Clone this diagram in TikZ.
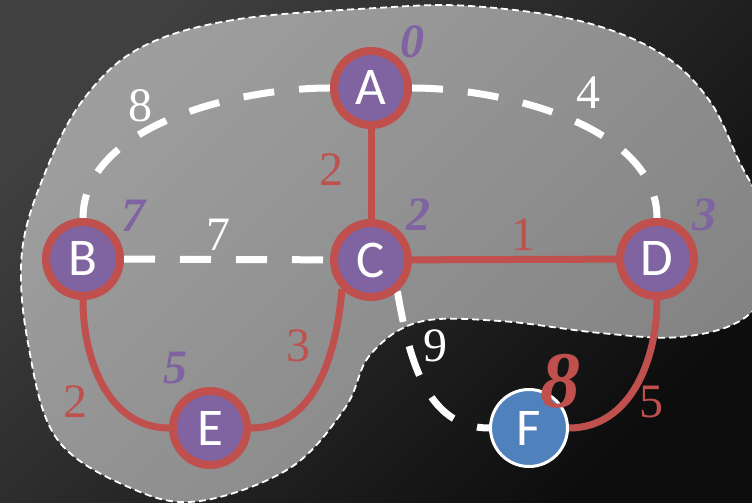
\documentclass[tikz,border=0pt]{standalone}
\usepackage{fontspec}
\setmainfont{Liberation Serif}
\newfontfamily\vertexfont{Carlito}
\usetikzlibrary{backgrounds}

\definecolor{vpurple}{HTML}{8064A2}
\definecolor{ered}{HTML}{C0504D}
\definecolor{fblue}{HTML}{4F81BD}

\begin{document}
\begin{tikzpicture}[x=1pt, y=1pt,
    vertex/.style={circle, draw=ered, line width=8pt, fill=vpurple, minimum size=74pt, inner sep=0pt, text=white, font=\vertexfont\fontsize{53}{53}\selectfont},
    frontier/.style={circle, draw=white, line width=3pt, fill=fblue, minimum size=77pt, inner sep=0pt, text=white, font=\vertexfont\fontsize{53}{53}\selectfont},
    treeedge/.style={draw=ered, line width=7pt},
    openedge/.style={draw=white, line width=7pt, dash pattern=on 31pt off 25pt},
    wlabel/.style={font=\fontsize{48}{48}\selectfont, text=white},
    rlabel/.style={font=\fontsize{48}{48}\selectfont, text=ered},
    dist/.style={font=\fontsize{48}{48}\selectfont\bfseries\itshape, text=vpurple},
]
\useasboundingbox (0,0) rectangle (752,503);
\clip (0,0) rectangle (752,503);

% Vertices
\node[vertex] (A) at (371,415) {A};
\node[vertex] (B) at (83,244) {B};
\node[vertex] (C) at (371,243) {C};
\node[vertex] (D) at (657,244) {D};
\node[vertex] (E) at (210,75) {E};
\node[frontier] (F) at (529,75) {F};

\begin{scope}[on background layer]
    % Background and visited region
    \shade[top color=black!75, bottom color=black!95, shading angle=45] (0,0) rectangle (752,503);
    \shade[top color=black!38, bottom color=black!49, shading angle=45, draw=white, line width=1.8pt, dash pattern=on 7pt off 4pt]
        plot[smooth cycle, tension=0.6] coordinates {
        (376,495) (233,483) (140,455) (83,403) (45,330) (22,251) (28,160) (57,64)
        (133,14) (200,2) (290,35) (345,95) (370,148) (419,181) (500,182) (600,170)
        (680,166) (743,184) (775,230) (765,290) (740,340) (709,403) (660,450)
        (580,482) (470,497)};

    % Edges
    \draw[openedge] (A.west) to[out=180, in=90, looseness=0.85] (B.north);
    \draw[openedge] (A.east) to[out=0, in=90, looseness=0.85] (D.north);
    \draw[openedge] (B) -- (C);
    \draw[openedge] (C.-50) to[out=-80, in=180] (F.west);
    \draw[treeedge] (A) -- (C);
    \draw[treeedge] (C) -- (D);
    \draw[treeedge] (B.south) to[out=-90, in=180] (E.west);
    \draw[treeedge] (C.-135) to[out=-95, in=0] (E.east);
    \draw[treeedge] (D.south) to[out=-90, in=0] (F.east);
\end{scope}

% Edge weights
\node[wlabel] (w8) at (140,397) {8};
\node[wlabel] (w4) at (588,410) {4};
\node[wlabel] (w7) at (218,268) {7};
\node[wlabel] (w9) at (435,157) {9};
\node[rlabel] (w2a) at (331,333) {2};
\node[rlabel] (w1) at (523,268) {1};
\node[rlabel] (w3) at (298,157) {3};
\node[rlabel] (w2b) at (75,101) {2};
\node[rlabel] (w5) at (651,101) {5};

% Distances
\node[dist] (dA) at (412,461) {0};
\node[dist] (dB) at (133,287) {7};
\node[dist] (dC) at (418,288) {2};
\node[dist] (dD) at (704,288) {3};
\node[dist] (dE) at (175,135) {5};
\node[dist, text=ered, font=\fontsize{80}{80}\selectfont\bfseries\itshape] (dF) at (560,122) {8};

\end{tikzpicture}
\end{document}
